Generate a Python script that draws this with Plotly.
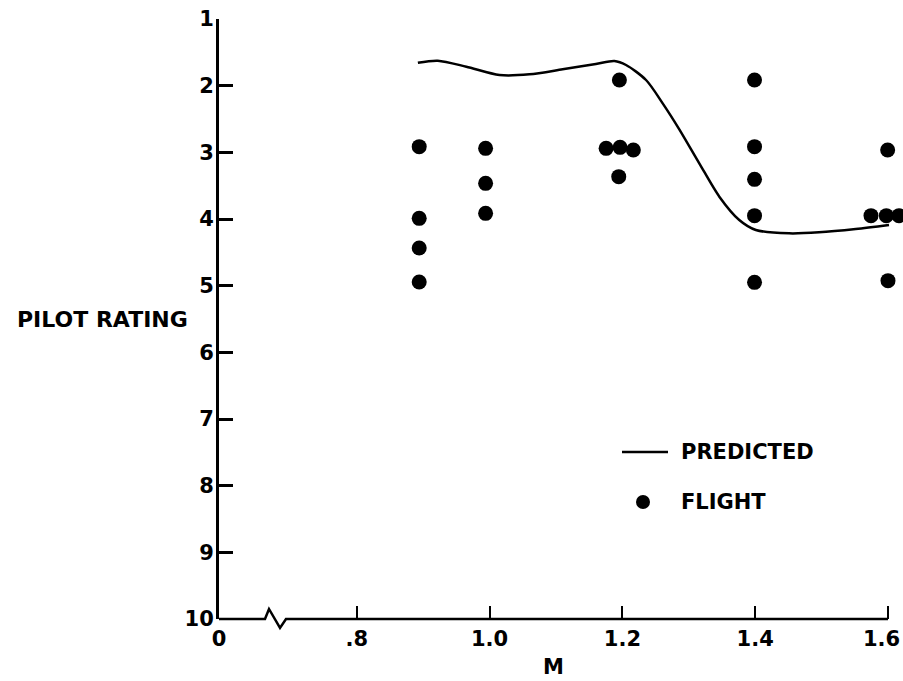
import plotly.graph_objects as go

# Flight test points: Mach number vs pilot rating
flight_m = [0.894, 0.894, 0.894, 0.894,
            0.994, 0.994, 0.994,
            1.1955, 1.1755, 1.1965, 1.2165, 1.1945,
            1.399, 1.399, 1.399, 1.399, 1.399,
            1.5995, 1.5744, 1.5975, 1.6165, 1.6]
flight_rating = [2.915, 3.99, 4.435, 4.945,
                 2.94, 3.465, 3.915,
                 1.915, 2.94, 2.925, 2.965, 3.365,
                 1.915, 2.915, 3.405, 3.95, 4.95,
                 2.965, 3.95, 3.95, 3.95, 4.925]

# Predicted pilot rating curve
pred_m = [0.892, 0.922, 0.965, 1.015, 1.06, 1.110, 1.160, 1.188, 1.2055,
          1.2356, 1.2607, 1.2857, 1.3158, 1.346, 1.376, 1.401, 1.451,
          1.496, 1.5514, 1.6015]
pred_rating = [1.655, 1.625, 1.715, 1.84, 1.83, 1.755, 1.675, 1.63, 1.69,
               1.915, 2.265, 2.655, 3.165, 3.665, 4.015, 4.165, 4.215,
               4.20, 4.15, 4.09]

# The last label sits against the right edge, so it is placed separately
x_tick_vals = [0.5925, 0.8, 1.0, 1.2, 1.4, 1.6]
x_tick_text = ["0", ".8", "1.0", "1.2", "1.4", ""]
last_x_label = "1.6"
y_tick_vals = [1, 2, 3, 4, 5, 6, 7, 8, 9, 10]

FONT = "DejaVu Sans"
X0, X1 = 0.5925, 1.6226
W, H = 903, 681
ML, MR, MT, MB = 219, 0, 19, 62
PW, PH = W - ML - MR, H - MT - MB


def px(p):
    """Horizontal pixel position -> paper fraction."""
    return (p - ML) / PW


def py(p):
    """Vertical pixel position -> paper fraction."""
    return (H - MB - p) / PH


fig = go.Figure()
fig.add_trace(go.Scatter(
    x=pred_m, y=pred_rating, mode="lines",
    line=dict(color="black", width=2.5, shape="spline", smoothing=0.8),
    cliponaxis=False, showlegend=False))
fig.add_trace(go.Scatter(
    x=flight_m, y=flight_rating, mode="markers",
    marker=dict(color="black", size=15),
    cliponaxis=False, showlegend=False))

shapes = []
# x axis line up to M = 1.6, with a break symbol near the origin
end_px = ML + (1.6 - X0) / (X1 - X0) * PW
brk = [(219, 619), (265, 619), (269, 609), (280, 628), (286, 619), (end_px, 619)]
path = "M " + " L ".join(f"{px(a):.5f},{py(b):.5f}" for a, b in brk)
shapes.append(dict(type="path", xref="paper", yref="paper", path=path,
                   line=dict(color="black", width=2.5)))
# legend keys
shapes.append(dict(type="line", xref="paper", yref="paper",
                   x0=px(622), x1=px(668), y0=py(452), y1=py(452),
                   line=dict(color="black", width=2.5)))
shapes.append(dict(type="circle", xref="paper", yref="paper",
                   xsizemode="pixel", ysizemode="pixel",
                   xanchor=px(643), yanchor=py(502),
                   x0=-7, x1=7, y0=-7, y1=7,
                   fillcolor="black", line=dict(color="black", width=0)))

bold = dict(family=FONT, size=21, color="black", weight="bold")
annotations = [
    dict(text="PREDICTED", xref="paper", yref="paper", x=px(679), y=py(452),
         xanchor="left", yanchor="middle", showarrow=False, font=bold),
    dict(text="FLIGHT", xref="paper", yref="paper", x=px(679), y=py(502),
         xanchor="left", yanchor="middle", showarrow=False, font=bold),
    dict(text="PILOT RATING", xref="paper", yref="paper",
         x=px(190), y=py(319), xanchor="right", yanchor="middle",
         showarrow=False, font=dict(bold, size=22)),
    dict(text="M", xref="paper", yref="paper",
         x=px(553), y=py(667), xanchor="center", yanchor="middle",
         showarrow=False, font=bold),
    dict(text=last_x_label, xref="paper", yref="paper",
         x=1.0, y=py(639), xanchor="right", yanchor="middle",
         xshift=-1, showarrow=False, font=bold),
]

fig.update_layout(
    width=W, height=H,
    margin=dict(l=ML, r=MR, t=MT, b=MB, autoexpand=False),
    plot_bgcolor="white", paper_bgcolor="white",
    shapes=shapes, annotations=annotations,
    xaxis=dict(range=[X0, X1], tickvals=x_tick_vals, ticktext=x_tick_text,
               ticks="inside", ticklen=13, tickwidth=2, tickcolor="black",
               showline=False, showgrid=False, zeroline=False,
               automargin=False, ticklabelstandoff=5, tickfont=bold),
    yaxis=dict(range=[10, 1], tickvals=y_tick_vals,
               ticks="inside", ticklen=14, tickwidth=2.5, tickcolor="black",
               showline=True, linewidth=3, linecolor="black",
               showgrid=False, zeroline=False, automargin=False,
               ticklabelstandoff=-2, tickfont=bold),
    font=dict(family=FONT, color="black"),
)

fig.write_html("out.html")
